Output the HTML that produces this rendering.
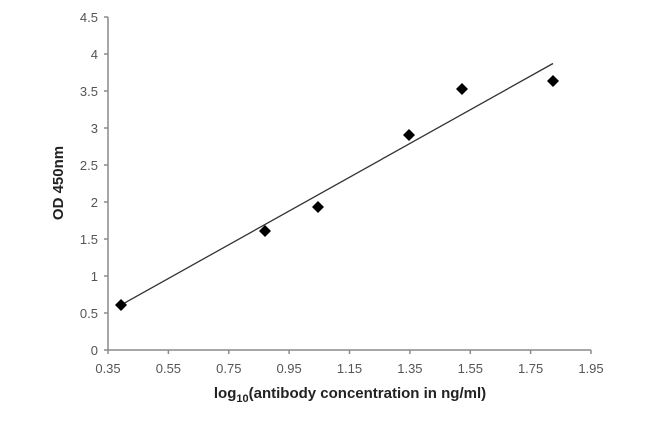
<!DOCTYPE html>
<html><head><meta charset="utf-8"><style>
html,body{margin:0;padding:0;background:#fff;}
svg{display:block;font-family:"Liberation Sans",sans-serif;}
</style></head><body>
<svg width="650" height="422" viewBox="0 0 650 422" xmlns="http://www.w3.org/2000/svg">
<rect width="650" height="422" fill="#fff"/>
<g stroke="#8a8a8a" stroke-width="1.5" fill="none">
<line x1="108" y1="17" x2="108" y2="350"/>
<line x1="108" y1="350" x2="591" y2="350"/>
<line x1="104" y1="17" x2="108" y2="17"/>
<line x1="104" y1="54" x2="108" y2="54"/>
<line x1="104" y1="91" x2="108" y2="91"/>
<line x1="104" y1="128" x2="108" y2="128"/>
<line x1="104" y1="165" x2="108" y2="165"/>
<line x1="104" y1="202" x2="108" y2="202"/>
<line x1="104" y1="239" x2="108" y2="239"/>
<line x1="104" y1="276" x2="108" y2="276"/>
<line x1="104" y1="313" x2="108" y2="313"/>
<line x1="104" y1="350" x2="108" y2="350"/>
<line x1="108" y1="350" x2="108" y2="354"/>
<line x1="168.4" y1="350" x2="168.4" y2="354"/>
<line x1="228.8" y1="350" x2="228.8" y2="354"/>
<line x1="289.1" y1="350" x2="289.1" y2="354"/>
<line x1="349.5" y1="350" x2="349.5" y2="354"/>
<line x1="409.9" y1="350" x2="409.9" y2="354"/>
<line x1="470.3" y1="350" x2="470.3" y2="354"/>
<line x1="530.6" y1="350" x2="530.6" y2="354"/>
<line x1="591" y1="350" x2="591" y2="354"/>
</g>
<g font-size="13" fill="#555" text-anchor="end">
<text x="98" y="22">4.5</text>
<text x="98" y="59">4</text>
<text x="98" y="96">3.5</text>
<text x="98" y="133">3</text>
<text x="98" y="170">2.5</text>
<text x="98" y="207">2</text>
<text x="98" y="244">1.5</text>
<text x="98" y="281">1</text>
<text x="98" y="318">0.5</text>
<text x="98" y="355">0</text>
</g>
<g font-size="13" fill="#555" text-anchor="middle">
<text x="108" y="373">0.35</text>
<text x="168.4" y="373">0.55</text>
<text x="228.8" y="373">0.75</text>
<text x="289.1" y="373">0.95</text>
<text x="349.5" y="373">1.15</text>
<text x="409.9" y="373">1.35</text>
<text x="470.3" y="373">1.55</text>
<text x="530.6" y="373">1.75</text>
<text x="591" y="373">1.95</text>
</g>
<text x="350" y="398" font-size="15" font-weight="bold" fill="#222" text-anchor="middle">log<tspan font-size="11" dy="4">10</tspan><tspan dy="-4">(antibody concentration in ng/ml)</tspan></text>
<text transform="translate(63,183) rotate(-90)" font-size="15" font-weight="bold" fill="#222" text-anchor="middle">OD 450nm</text>
<line x1="121" y1="305" x2="553" y2="63.5" stroke="#333" stroke-width="1.3"/>
<g fill="#000">
<path d="M121 299 L127 305 L121 311 L115 305Z"/>
<path d="M265 225 L271 231 L265 237 L259 231Z"/>
<path d="M318 201 L324 207 L318 213 L312 207Z"/>
<path d="M409 129 L415 135 L409 141 L403 135Z"/>
<path d="M462 83 L468 89 L462 95 L456 89Z"/>
<path d="M553 75 L559 81 L553 87 L547 81Z"/>
</g>
</svg>
</body></html>
